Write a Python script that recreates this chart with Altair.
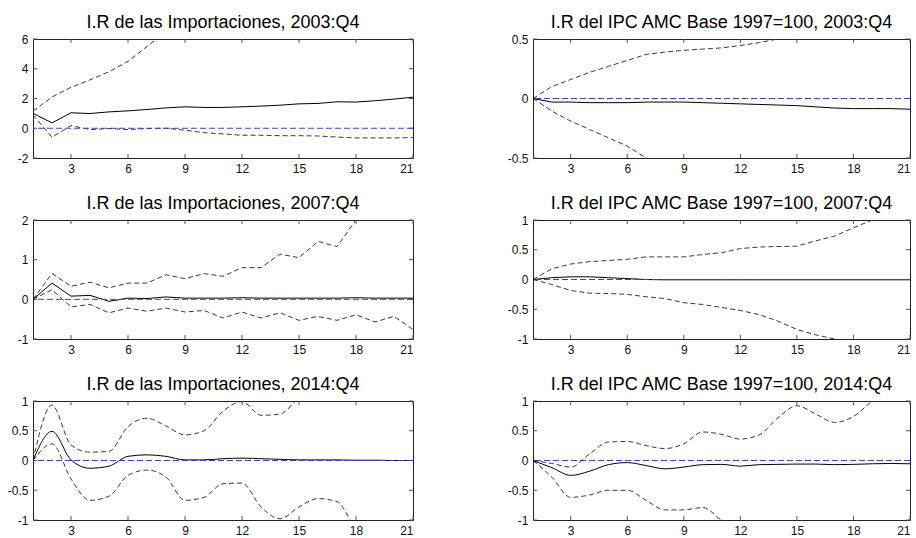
import altair as alt
import pandas as pd

# ---------------- data ----------------
steps = list(range(1, 22))
x_ticks = [3, 6, 9, 12, 15, 18, 21]

titles = [
    "I.R de las Importaciones, 2003:Q4",
    "I.R del IPC AMC Base 1997=100, 2003:Q4",
    "I.R de las Importaciones, 2007:Q4",
    "I.R del IPC AMC Base 1997=100, 2007:Q4",
    "I.R de las Importaciones, 2014:Q4",
    "I.R del IPC AMC Base 1997=100, 2014:Q4",
]

# panel A: Importaciones 2003:Q4
irf_a = [1.0, 0.36, 1.04, 0.99, 1.1, 1.17, 1.26, 1.37, 1.44, 1.4, 1.4, 1.44, 1.49, 1.55, 1.64, 1.67, 1.78, 1.76, 1.85, 1.96, 2.09]
hi_a = [1.15, 2.1, 2.75, 3.25, 3.8, 4.5, 5.5, 6.5, 7.3, 8.0, 8.7, 9.4, 10.1, 10.8, 11.5, 12.2, 12.9, 13.6, 14.3, 15.0, 15.7]
lo_a = [0.9, -0.6, 0.18, -0.09, -0.02, -0.09, -0.02, 0.0, -0.13, -0.3, -0.38, -0.47, -0.47, -0.5, -0.5, -0.52, -0.59, -0.65, -0.65, -0.65, -0.63]
ydom_a = [-2, 6]
yticks_a = [-2, 0, 2, 4, 6]

# panel B: IPC 2003:Q4
irf_b = [0, -0.03, -0.03, -0.035, -0.035, -0.035, -0.03, -0.03, -0.03, -0.035, -0.04, -0.045, -0.05, -0.055, -0.06, -0.07, -0.08, -0.085, -0.085, -0.085, -0.09]
hi_b = [0, 0.10, 0.16, 0.22, 0.27, 0.32, 0.37, 0.39, 0.405, 0.415, 0.425, 0.445, 0.47, 0.5, 0.53, 0.56, 0.6, 0.63, 0.67, 0.7, 0.74]
lo_b = [0, -0.105, -0.19, -0.26, -0.33, -0.4, -0.5, -0.56, -0.62, -0.68, -0.73, -0.78, -0.83, -0.88, -0.93, -0.98, -1.03, -1.08, -1.13, -1.18, -1.22]
ydom_b = [-0.5, 0.5]
yticks_b = [-0.5, 0, 0.5]

# panel C: Importaciones 2007:Q4
irf_c = [0, 0.41, 0.08, 0.1, -0.05, 0.03, 0.02, 0.06, 0.03, 0.03, 0.03, 0.04, 0.03, 0.03, 0.03, 0.03, 0.03, 0.04, 0.03, 0.03, 0.03]
hi_c = [0, 0.65, 0.33, 0.43, 0.29, 0.41, 0.41, 0.62, 0.52, 0.65, 0.58, 0.8, 0.8, 1.14, 1.05, 1.46, 1.33, 2.0, 2.6, 3.0, 3.4]
lo_c = [0, 0.24, -0.19, -0.13, -0.34, -0.22, -0.3, -0.22, -0.32, -0.28, -0.47, -0.32, -0.47, -0.34, -0.53, -0.43, -0.53, -0.39, -0.57, -0.43, -0.76]
ydom_c = [-1, 2]
yticks_c = [-1, 0, 1, 2]

# panel D: IPC 2007:Q4
irf_d = [0, 0.03, 0.045, 0.045, 0.03, 0.015, 0.0, -0.005, -0.005, -0.005, -0.005, -0.005, -0.005, -0.005, -0.005, -0.005, -0.005, -0.005, -0.005, -0.005, -0.005]
hi_d = [0, 0.18, 0.26, 0.3, 0.32, 0.34, 0.38, 0.38, 0.38, 0.42, 0.45, 0.52, 0.545, 0.555, 0.56, 0.65, 0.73, 0.87, 1.0, 1.08, 1.15]
lo_d = [0, -0.085, -0.185, -0.23, -0.236, -0.25, -0.29, -0.32, -0.39, -0.42, -0.47, -0.52, -0.59, -0.7, -0.84, -0.93, -1.0, -1.05, -1.1, -1.15, -1.2]
ydom_d = [-1, 1]
yticks_d = [-1, -0.5, 0, 0.5, 1]

# panel E: Importaciones 2014:Q4
irf_e = [0, 0.49, 0.01, -0.13, -0.095, 0.07, 0.095, 0.07, 0.01, 0.01, 0.03, 0.04, 0.03, 0.02, 0.01, 0.01, 0.01, 0.005, 0.005, 0.0, 0.0]
hi_e = [0, 0.93, 0.26, 0.14, 0.155, 0.57, 0.71, 0.58, 0.43, 0.5, 0.83, 0.99, 0.76, 0.78, 1.05, 1.2, 1.3, 1.4, 1.5, 1.6, 1.7]
lo_e = [0, 0.28, -0.31, -0.67, -0.6, -0.25, -0.16, -0.28, -0.67, -0.62, -0.39, -0.38, -0.78, -0.98, -0.78, -0.64, -0.69, -1.14, -1.3, -1.4, -1.5]
ydom_e = [-1, 1]
yticks_e = [-1, -0.5, 0, 0.5, 1]

# panel F: IPC 2014:Q4
irf_f = [0, -0.12, -0.25, -0.18, -0.07, -0.035, -0.085, -0.14, -0.11, -0.07, -0.065, -0.095, -0.07, -0.065, -0.06, -0.06, -0.07, -0.065, -0.055, -0.05, -0.055]
hi_f = [0, -0.05, -0.11, 0.11, 0.31, 0.32, 0.25, 0.2, 0.28, 0.48, 0.44, 0.36, 0.43, 0.72, 0.92, 0.78, 0.64, 0.74, 1.0, 1.2, 1.35]
lo_f = [0, -0.28, -0.62, -0.58, -0.5, -0.5, -0.67, -0.83, -0.83, -0.79, -1.0, -1.15, -1.25, -1.3, -1.35, -1.4, -1.45, -1.5, -1.55, -1.58, -1.6]
ydom_f = [-1, 1]
yticks_f = [-1, -0.5, 0, 0.5, 1]

zero_level = [0]

# ---------------- styling ----------------
FONT = "Liberation Sans"
H = 119
W_LEFT = 380
W_RIGHT = 377
TICK = 4
BAND_COLOR = "#3a3a3a"
ZERO_COLOR = "#4040c4"
TICK_COLOR = "#555555"
LABEL_EXPR = "replace(format(datum.value, ''), '\u2212', '-')"


def panel(title, irf, lo, hi, ydom, yticks, width, interp):
    df = pd.DataFrame({"x": steps, "irf": irf, "lo": lo, "hi": hi})
    xs = alt.Scale(domain=[1, 21], nice=False, zero=False)
    ys = alt.Scale(domain=ydom, nice=False, zero=False)
    xaxis = alt.Axis(values=x_ticks, title=None, tickSize=0, domain=False, grid=False,
                     labelPadding=5, labelFontSize=12, labelColor="#111", labelFont=FONT)
    yaxis = alt.Axis(values=yticks, title=None, tickSize=0, domain=False, grid=False,
                     labelPadding=5, labelFontSize=12, labelColor="#111", labelFont=FONT,
                     labelExpr=LABEL_EXPR)

    base = alt.Chart(df)
    x_enc = alt.X("x:Q", scale=xs, axis=xaxis)

    zero = alt.Chart(pd.DataFrame({"z": zero_level})).mark_rule(
        color=ZERO_COLOR, strokeDash=[6, 3], strokeWidth=1
    ).encode(y=alt.Y("z:Q", scale=ys, axis=yaxis))

    upper = base.mark_line(color=BAND_COLOR, strokeDash=[5, 3], strokeWidth=1,
                           clip=True, interpolate=interp).encode(
        x=x_enc, y=alt.Y("hi:Q", scale=ys, axis=yaxis))
    lower = base.mark_line(color=BAND_COLOR, strokeDash=[5, 3], strokeWidth=1,
                           clip=True, interpolate=interp).encode(
        x=x_enc, y=alt.Y("lo:Q", scale=ys, axis=yaxis))
    mid = base.mark_line(color="#000000", strokeWidth=1, clip=True,
                         interpolate=interp).encode(
        x=x_enc, y=alt.Y("irf:Q", scale=ys, axis=yaxis))

    xt = alt.Chart(pd.DataFrame({"t": x_ticks}))
    top_ticks = xt.mark_rule(color=TICK_COLOR, strokeWidth=1).encode(
        x=alt.X("t:Q", scale=xs, axis=xaxis), y=alt.value(0), y2=alt.value(TICK))
    bot_ticks = xt.mark_rule(color=TICK_COLOR, strokeWidth=1).encode(
        x=alt.X("t:Q", scale=xs, axis=xaxis), y=alt.value(H - TICK), y2=alt.value(H))
    yt = alt.Chart(pd.DataFrame({"t": yticks}))
    left_ticks = yt.mark_rule(color=TICK_COLOR, strokeWidth=1).encode(
        y=alt.Y("t:Q", scale=ys, axis=yaxis), x=alt.value(0), x2=alt.value(TICK))
    right_ticks = yt.mark_rule(color=TICK_COLOR, strokeWidth=1).encode(
        y=alt.Y("t:Q", scale=ys, axis=yaxis), x=alt.value(width - TICK), x2=alt.value(width))

    return alt.layer(
        top_ticks, bot_ticks, left_ticks, right_ticks, upper, lower, mid, zero
    ).properties(
        width=width, height=H,
        title=alt.TitleParams(title, fontSize=18, font=FONT, fontWeight="normal",
                              color="#000", offset=1, anchor="middle"),
    )


pA = panel(titles[0], irf_a, lo_a, hi_a, ydom_a, yticks_a, W_LEFT, "linear")
pB = panel(titles[1], irf_b, lo_b, hi_b, ydom_b, yticks_b, W_RIGHT, "linear")
pC = panel(titles[2], irf_c, lo_c, hi_c, ydom_c, yticks_c, W_LEFT, "linear")
pD = panel(titles[3], irf_d, lo_d, hi_d, ydom_d, yticks_d, W_RIGHT, "linear")
pE = panel(titles[4], irf_e, lo_e, hi_e, ydom_e, yticks_e, W_LEFT, "monotone")
pF = panel(titles[5], irf_f, lo_f, hi_f, ydom_f, yticks_f, W_RIGHT, "monotone")

chart = alt.concat(
    pA, pB, pC, pD, pE, pF,
    columns=2,
    spacing={"row": 62, "column": 120},
    bounds="flush",
).properties(
    padding={"left": 6, "top": 13, "right": 0, "bottom": 0},
    background="white",
).configure_view(
    stroke="#222222", strokeWidth=1
)

chart.save("out.html", embed_options={"renderer": "svg", "actions": False})
